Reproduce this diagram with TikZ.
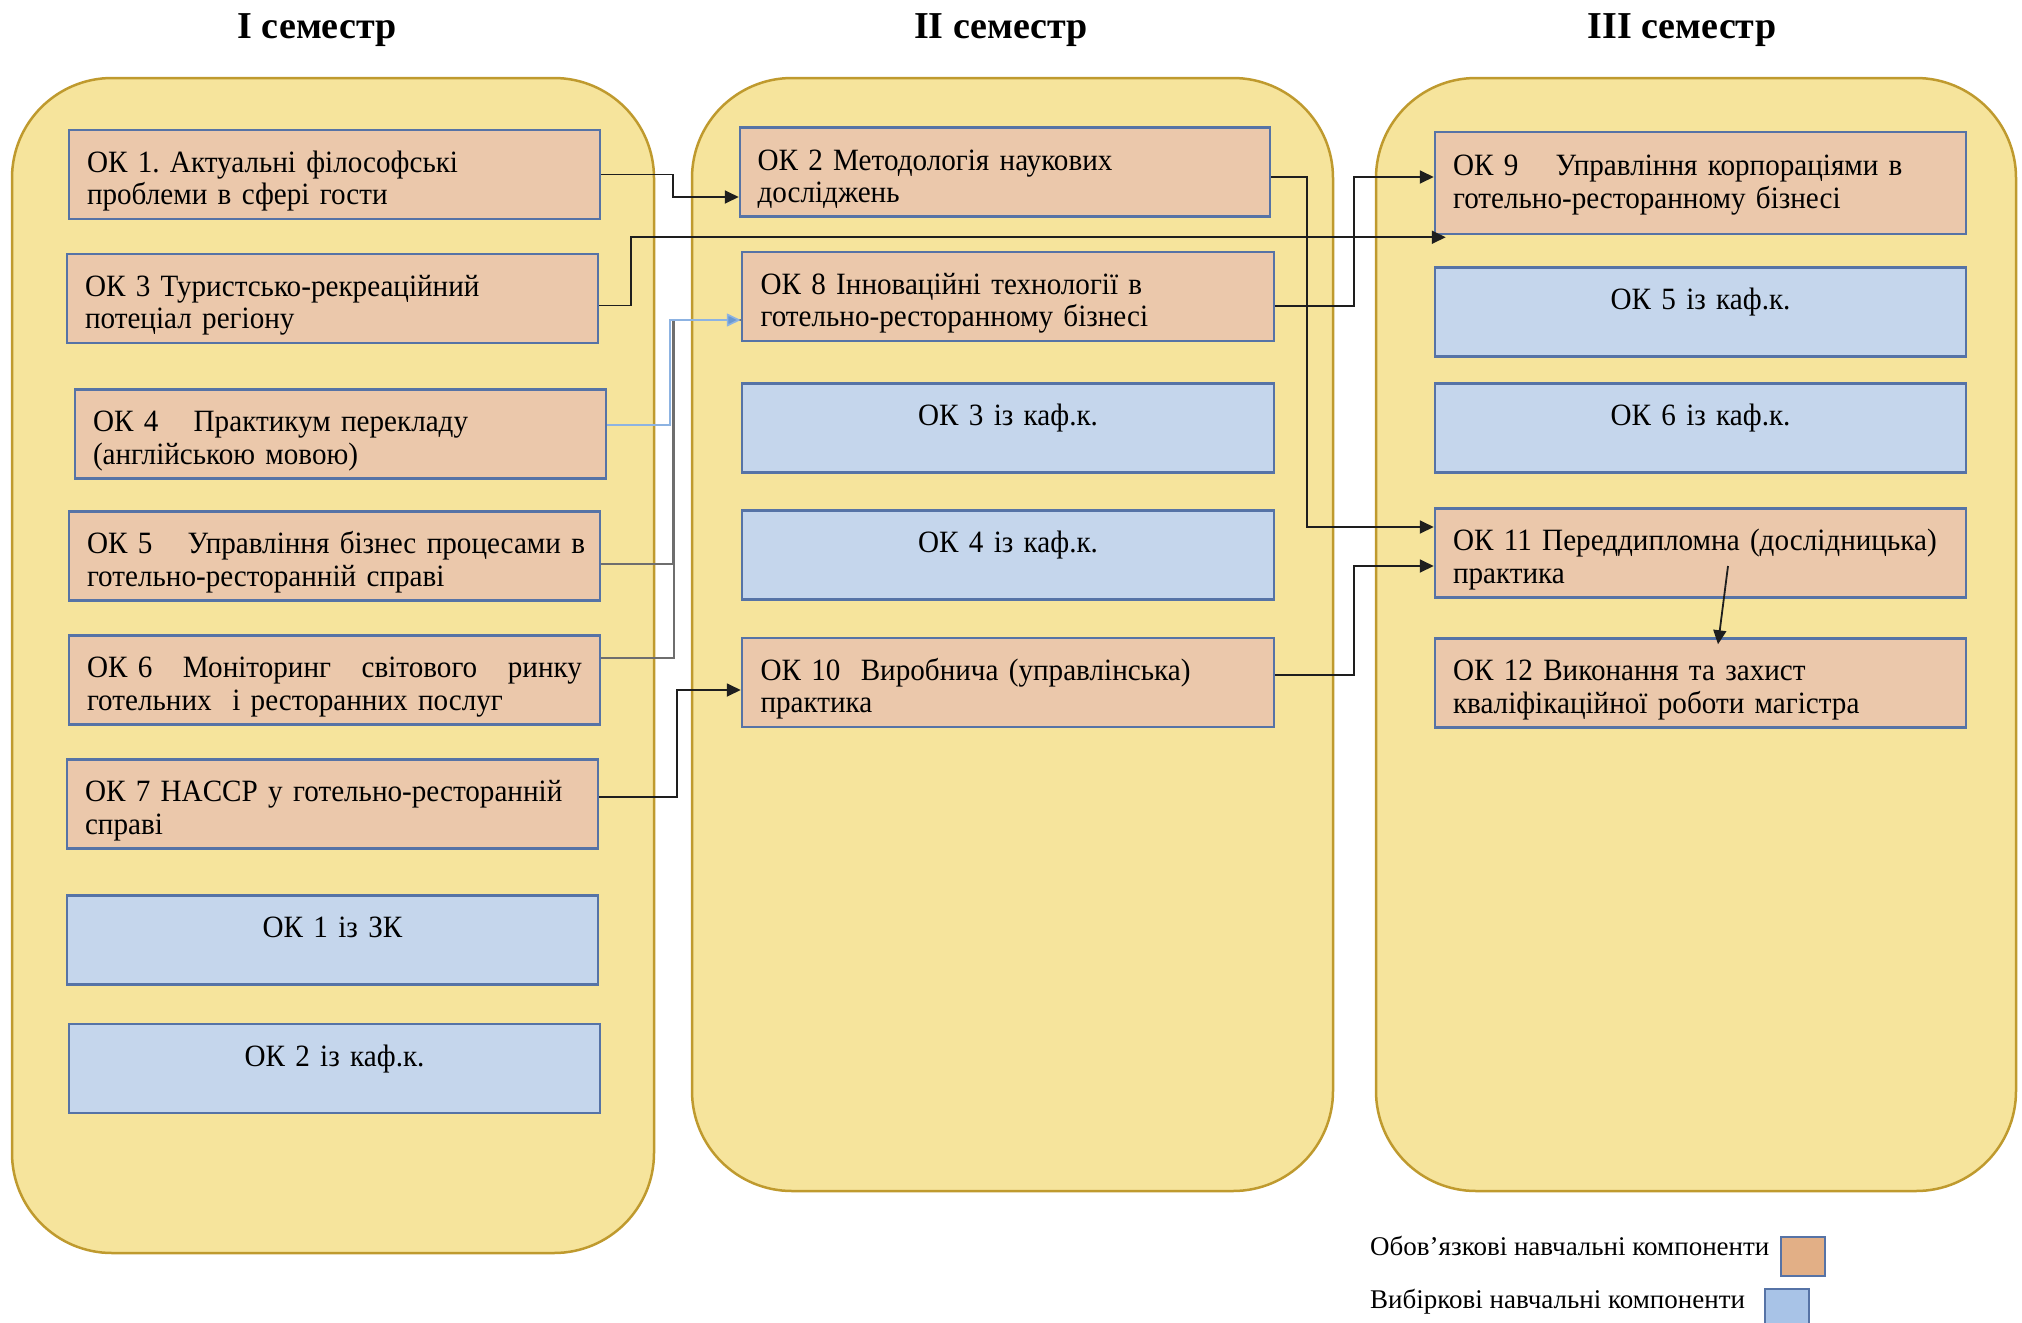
\documentclass[tikz,border=0pt]{standalone}
\usepackage{fontspec}
\setmainfont{Liberation Serif}
\newfontfamily\bodyfam{Liberation Serif}[FakeStretch=0.94]
\usetikzlibrary{arrows.meta}
\definecolor{panelfill}{HTML}{F6E49C}
\definecolor{paneldraw}{HTML}{BF9A2E}
\definecolor{orfill}{HTML}{EBC8AB}
\definecolor{blfill}{HTML}{C5D6EC}
\definecolor{boxdraw}{HTML}{5673A6}
\definecolor{legor}{HTML}{E2AF86}
\definecolor{legbl}{HTML}{A8C3E7}
\definecolor{lineblue}{HTML}{8DB3E2}
\definecolor{headblue}{HTML}{6A98D0}
\definecolor{linegrey}{HTML}{6E6E6E}
\definecolor{lineblack}{HTML}{1E1E1E}
\newcommand\bodyfont{\bodyfam\fontsize{31}{32.5}\selectfont\frenchspacing}
\newcommand\titlefont{\fontsize{38}{40}\selectfont\bfseries}
\newcommand\legfont{\fontsize{27}{29}\selectfont}
\newcommand\okstrut{\rule{0pt}{35pt}}
\newcommand\elstrut{\rule{0pt}{28pt}}
\begin{document}
\begin{tikzpicture}[x=1pt,y=-1pt,
  panel/.style={draw=paneldraw, line width=2.5pt, fill=panelfill, rounded corners=100pt, inner sep=0pt},
  title/.style={font=\titlefont, anchor=base},
  okbox/.style={draw=boxdraw, line width=2.5pt, fill=orfill, minimum width=531pt, minimum height=89pt,
                text width=495pt, inner sep=0pt, align=left, font=\bodyfont},
  elbox/.style={okbox, fill=blfill, align=center},
  arr/.style={draw=lineblack, line width=1.8pt, -{Triangle[length=14pt,width=13pt]}},
  bluearr/.style={draw=lineblue, line width=1.6pt, -{Triangle[length=14pt,width=13pt,fill=headblue]}},
  greyline/.style={draw=linegrey, line width=1.8pt},
  legtext/.style={font=\legfont, anchor=base west, inner sep=0pt},
  legbox/.style={draw=boxdraw, line width=2.5pt, minimum width=44pt, minimum height=39pt, inner sep=0pt}
]
\useasboundingbox (0,0) rectangle (2022,1323);

% panels
\node[panel, minimum width=642pt, minimum height=1175pt] (P1) at (333,665.5) {};
\node[panel, minimum width=641pt, minimum height=1113pt] (P2) at (1012.5,634.5) {};
\node[panel, minimum width=640pt, minimum height=1113pt] (P3) at (1696,634.5) {};

% titles
\node[title] (T1) at (317,38) {І семестр};
\node[title] (T2) at (1001,38) {ІІ семестр};
\node[title] (T3) at (1682,38) {ІІІ семестр};

% column 1
\node[okbox] (OK1) at (334.5,174.5) {\okstrut ОК 1. Актуальні філософські\\проблеми в сфері гости};
\node[okbox] (OK3) at (332.5,298.5) {\okstrut ОК 3 Туристсько-рекреаційний\\потеціал регіону};
\node[okbox] (OK4) at (340.5,434) {\okstrut ОК 4\hspace{25pt} Практикум перекладу\\(англійською мовою)};
\node[okbox] (OK5) at (334.5,556) {\okstrut\makebox[495pt][l]{ОК 5\hspace{25pt} Управління \hfill бізнес \hfill процесами \hfill в}\\готельно-ресторанній справі};
\node[okbox] (OK6) at (334.5,680) {\okstrut\makebox[495pt][l]{ОК 6 \hfill Моніторинг \hfill світового \hfill ринку}\\готельних\ \ і ресторанних послуг};
\node[okbox] (OK7) at (332.5,804) {\okstrut\mbox{ОК 7 HACCP у готельно-ресторанній}\\справі};
\node[elbox] (B1) at (332.5,940) {\elstrut ОК 1 із ЗК\\~};
\node[elbox] (B2) at (334.5,1068.5) {\elstrut ОК 2 із каф.к.\\~};

% column 2
\node[okbox, minimum width=530pt] (OK2) at (1005,172) {\okstrut ОК 2 Методологія наукових\\досліджень};
\node[okbox, minimum width=532pt] (OK8) at (1008,296.5) {\okstrut\mbox{ОК 8 Інноваційні технології в}\\готельно-ресторанному бізнесі};
\node[elbox, minimum width=532pt] (B3) at (1008,428) {\elstrut ОК 3 із каф.к.\\~};
\node[elbox, minimum width=532pt] (B4) at (1008,555) {\elstrut ОК 4 із каф.к.\\~};
\node[okbox, minimum width=532pt] (OK10) at (1008,682.5) {\okstrut\mbox{ОК 10\hspace{10pt} Виробнича (управлінська)}\\практика};

% column 3
\node[okbox, minimum height=102pt] (OK9) at (1700.5,183) {\rule{0pt}{25pt}\mbox{ОК 9\hspace{27pt} Управління корпораціями в}\\готельно-ресторанному бізнесі};
\node[elbox] (B5) at (1700.5,312) {\elstrut ОК 5 із каф.к.\\~};
\node[elbox] (B6) at (1700.5,428) {\elstrut ОК 6 із каф.к.\\~};
\node[okbox] (OK11) at (1700.5,553) {\okstrut\mbox{ОК 11 Переддипломна (дослідницька)}\\практика};
\node[okbox] (OK12) at (1700.5,683) {\okstrut ОК 12 Виконання та захист\\кваліфікаційної роботи магістра};

% connectors
\draw[arr] (OK1.east) -- ++(72,0) |- ([yshift=-25pt]OK2.west);
\draw[arr] ([yshift=-7pt]OK3.east) -- ++(32,0) |- ([shift={(12pt,-2pt)}]OK9.south west);
\draw[greyline] ([yshift=-8pt]OK5.east) -- ++(72,0) |- ([yshift=-23.5pt]OK8.west);
\draw[greyline] ([yshift=22pt]OK6.east) -- ++(73,0) |- ([yshift=-23.5pt]OK8.west);
\draw[bluearr] ([yshift=9pt]OK4.east) -- ++(63,0) |- ([yshift=-23.5pt]OK8.west);
\draw[arr] ([yshift=7pt]OK7.east) -- ++(78,0) |- ([yshift=-7.5pt]OK10.west);
\draw[arr] ([yshift=-5pt]OK2.east) -- ++(36,0) |- ([yshift=26pt]OK11.west);
\draw[arr] ([yshift=-9.5pt]OK8.east) -- ++(79,0) |- ([yshift=6pt]OK9.west);
\draw[arr] ([yshift=7.5pt]OK10.east) -- ++(79,0) |- ([yshift=-13pt]OK11.west);
\draw[arr] ([shift={(27.5pt,-13pt)}]OK11.center) -- ([shift={(17.5pt,-7pt)}]OK12.north);

% legend
\node[legtext] (L1) at (1370,1255) {Обов’язкові навчальні компоненти};
\node[legtext] (L2) at (1370,1308) {Вибіркові навчальні компоненти};
\node[legbox, fill=legor] (L1box) at (1803,1256.5) {};
\begin{scope}
\clip (0,0) rectangle (2022,1323);
\node[legbox, fill=legbl, minimum height=50pt] (L2box) at (1787,1314) {};
\end{scope}
\end{tikzpicture}
\end{document}
